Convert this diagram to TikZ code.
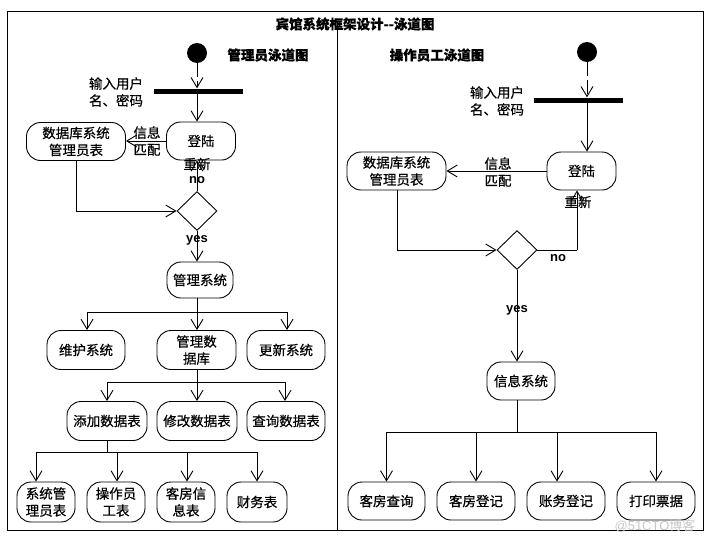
\documentclass[tikz,border=0pt]{standalone}
\usepackage{fontspec}
\setmainfont{Noto Sans CJK SC}[FakeBold=0.5]
\newfontfamily\latfont{Liberation Sans}
\newfontfamily\wmfont{Noto Sans CJK SC}
\usetikzlibrary{arrows.meta,shapes.geometric}
\begin{document}
\begin{tikzpicture}[x=1pt,y=-1pt,
  every node/.style={font=\fontsize{13.5}{17}\selectfont},
  act/.style={draw, line width=0.9pt, rounded corners=14pt, minimum height=38pt, inner sep=1pt, align=center},
  startc/.style={circle, fill=black, minimum size=20pt, inner sep=0pt},
  barnode/.style={fill=black, minimum height=5pt, inner sep=0pt},
  dec/.style={draw, line width=0.9pt, diamond, minimum width=40pt, minimum height=39pt, inner sep=0pt, aspect=1},
  arr/.style={line width=0.9pt, -{Straight Barb[length=10pt,width=12pt,line width=0.9pt]}},
  darr/.style={arr, dash pattern=on 14pt off 4pt},
  ln/.style={line width=0.9pt},
  lbl/.style={inner sep=0pt, align=center},
  ttl/.style={lbl, font=\fontsize{13.5}{15}\selectfont\bfseries},
  yn/.style={inner sep=0pt, font=\latfont\bfseries\fontsize{13}{15}\selectfont}]
\useasboundingbox (0,0) rectangle (709,544);
% frame
\draw[line width=0.9pt] (7,11) rectangle (703,530);
\draw[line width=0.9pt] (337,22) -- (337,530);
\node[ttl] (title) at (355,24) {宾馆系统框架设计-{}-泳道图};

% ===== left lane =====
\node[ttl] (t1) at (268,55) {管理员泳道图};
\node[startc] (s1) at (197,53) {};
\node[barnode, minimum width=89pt] (b1) at (198.5,91) {};
\node[lbl, align=left] (in1) at (116,92) {输入用户\\名、密码};
\node[act, minimum width=69pt] (l1) at (201,141) {登陆};
\node[act, minimum width=99pt] (db1) at (76,141.5) {数据库系统\\管理员表};
\node[lbl] (xx1) at (147,141) {信息\\匹配};
\node[dec] (d1) at (197,211) {};
\node[lbl] (cx1) at (197,164) {重新};
\node[yn] (no1) at (197,180) {no};
\node[yn] (yes1) at (197,240) {yes};
\node[act, minimum width=66pt, minimum height=36pt] (m1) at (200,280) {管理系统};
\node[act, minimum width=78pt, minimum height=39pt] (r2a) at (86,350) {维护系统};
\node[act, minimum width=79pt, minimum height=39pt] (r2b) at (196.5,350) {管理数\\据库};
\node[act, minimum width=78pt, minimum height=39pt] (r2c) at (286,350) {更新系统};
\node[act, minimum width=80pt, minimum height=39pt] (r3a) at (107,421) {添加数据表};
\node[act, minimum width=80pt, minimum height=39pt] (r3b) at (197,421) {修改数据表};
\node[act, minimum width=78pt, minimum height=39pt] (r3c) at (286,421) {查询数据表};
\node[act, minimum width=58pt, minimum height=40pt] (r4a) at (46,502) {系统管\\理员表};
\node[act, minimum width=58pt, minimum height=40pt] (r4b) at (116,502) {操作员\\工表};
\node[act, minimum width=58pt, minimum height=40pt] (r4c) at (186,502) {客房信\\息表};
\node[act, minimum width=60pt, minimum height=40pt] (r4d) at (257,502) {财务表};
\coordinate (j1) at (197,312);
\coordinate (j2) at (197,382);
\coordinate (j3) at (107,452);

\draw[darr] (s1.south) -- (s1 |- b1.north);
\draw[arr] (s1 |- b1.south) -- (s1 |- l1.north);
\draw[arr] (l1.west) -- (db1.east |- l1.west);
\draw[arr] (db1.south) |- (d1.west);
\draw[arr] (d1.north) -- (d1.north |- l1.south);
\draw[arr] (d1.south) -- (d1.south |- m1.north);
\draw[ln] (j1 |- m1.south) -- (j1);
\draw[arr] (j1) -| ([xshift=1pt]r2a.north);
\draw[arr] (j1) -| ([xshift=1pt]r2c.north);
\draw[arr] (j1) -- (j1 |- r2b.north);
\draw[ln] (j2 |- r2b.south) -- (j2);
\draw[arr] (j2) -| (r3a.north);
\draw[arr] (j2) -| ([xshift=-1pt]r3c.north);
\draw[arr] (j2) -- (r3b.north);
\draw[ln] (r3a.south) -- (j3);
\draw[arr] (j3) -| ([xshift=-10pt]r4a.north);
\draw[arr] (j3) -| ([xshift=1pt]r4b.north);
\draw[arr] (j3) -| ([xshift=1pt]r4c.north);
\draw[arr] (j3) -| (r4d.north);

% ===== right lane =====
\node[ttl] (t2) at (437,55) {操作员工泳道图};
\node[startc] (s2) at (587,52) {};
\node[barnode, minimum width=89pt] (b2) at (578.5,100) {};
\node[lbl, align=left] (in2) at (497,101) {输入用户\\名、密码};
\node[act, minimum width=69pt] (l2) at (581.5,171) {登陆};
\node[act, minimum width=99pt] (db2) at (396.5,171) {数据库系统\\管理员表};
\node[lbl] (xx2) at (498,172) {信息\\匹配};
\node[dec] (d2) at (517,250) {};
\node[lbl] (cx2) at (578,202) {重新};
\node[yn] (no2) at (558,258) {no};
\node[yn] (yes2) at (517,310) {yes};
\node[act, minimum width=68pt] (m2) at (521,381) {信息系统};
\node[act, minimum width=77pt] (q1) at (386.5,501) {客房查询};
\node[act, minimum width=78pt] (q2) at (476,501) {客房登记};
\node[act, minimum width=78pt] (q3) at (566,501) {账务登记};
\node[act, minimum width=78pt] (q4) at (656,501) {打印票据};
\coordinate (k1) at (517,432);
\coordinate (k2) at (577,250);

\draw[darr] (s2.south) -- (s2 |- b2.north);
\draw[arr] (s2 |- b2.south) -- (s2 |- l2.north);
\draw[arr] (l2.west) -- (db2.east |- l2.west);
\draw[arr] ([xshift=1pt]db2.south) |- (d2.west);
\draw[ln] (d2.east) -- (k2);
\draw[arr] (k2) -- (k2 |- l2.south);
\draw[arr] (d2.south) -- (d2.south |- m2.north);
\draw[ln] (k1 |- m2.south) -- (k1);
\draw[arr] (k1) -| (q1.north);
\draw[arr] (k1) -| (q2.north);
\draw[arr] (k1) -| ([xshift=-9pt]q3.north);
\draw[arr] (k1) -| (q4.north);

\node[lbl, text=black!22, font=\latfont\fontsize{13}{15}\selectfont] (wm) at (655,526) {@51CTO\wmfont 博客};
\end{tikzpicture}
\end{document}
